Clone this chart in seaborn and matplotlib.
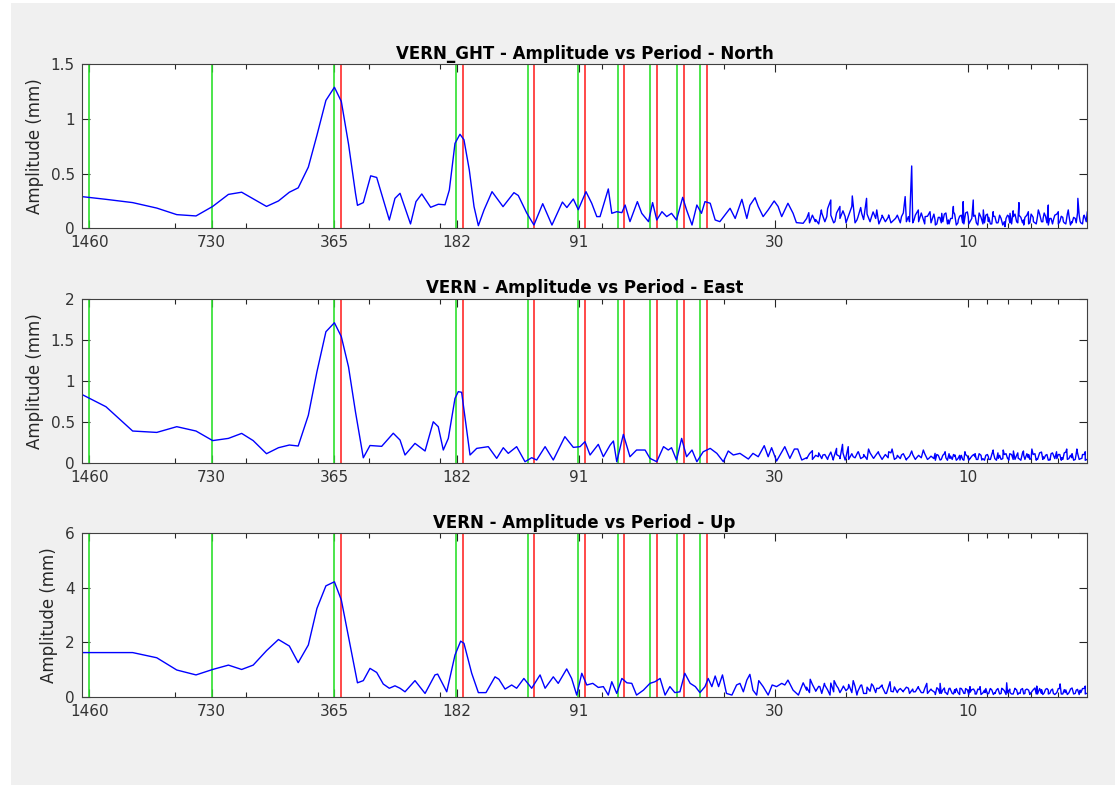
import matplotlib
matplotlib.use("Agg")
import matplotlib.pyplot as plt
import seaborn as sns
import pandas as pd
from matplotlib.ticker import FixedLocator, FixedFormatter, NullFormatter
from matplotlib.patches import Rectangle

# ---------------- data (period in days, amplitude in mm) ----------------
north_points = [
    (1526, 0.29), (1330, 0.265), (1143, 0.235), (997, 0.185), (890, 0.125), (798, 0.113),
    (726, 0.20), (664, 0.31), (616, 0.33), (577, 0.27), (535, 0.20), (500, 0.25), (470, 0.33),
    (447, 0.37), (422, 0.56), (402, 0.85), (382, 1.17), (364, 1.29), (350, 1.16), (336, 0.77),
    (323, 0.32), (319.4, 0.21), (309, 0.235), (296.3, 0.48), (286.4, 0.465), (266.6, 0.076),
    (258.2, 0.274), (250.9, 0.32), (236.4, 0.04), (229.2, 0.244), (221.8, 0.314), (210.9, 0.192),
    (201.9, 0.22), (194.4, 0.215), (189.7, 0.35), (183.7, 0.777), (178.6, 0.86), (174.6, 0.81),
    (169.4, 0.534), (164.9, 0.198), (160.9, 0.024), (155.8, 0.168), (148.9, 0.335), (139.9, 0.198),
    (131.5, 0.326), (128.3, 0.30), (122.3, 0.14), (117.4, 0.03), (111.7, 0.225), (106.0, 0.03),
    (99.9, 0.24), (97.4, 0.19), (93.9, 0.268), (91.3, 0.17), (87.4, 0.335), (84.6, 0.229),
    (82.2, 0.107), (80.7, 0.107), (77.0, 0.36), (75.5, 0.137), (73.4, 0.152), (71.3, 0.143),
    (70.0, 0.213), (68.1, 0.061), (65.3, 0.244), (63.7, 0.137), (61.3, 0.061), (59.9, 0.235),
    (58.5, 0.076), (56.8, 0.152), (55.3, 0.107), (53.8, 0.137), (52.3, 0.076), (50.5, 0.283),
    (49.4, 0.168), (47.9, 0.03), (46.6, 0.213), (45.4, 0.137), (44.5, 0.244), (43.2, 0.229),
    (42.0, 0.076), (40.9, 0.061), (38.6, 0.183), (37.5, 0.09), (36.1, 0.265), (35.1, 0.09),
    (34.5, 0.21), (33.5, 0.28), (32.9, 0.2), (32.0, 0.107), (31.1, 0.168), (30.06, 0.25),
    (29.4, 0.2), (28.8, 0.107), (27.8, 0.229), (27.0, 0.137), (26.5, 0.052), (25.5, 0.046),
    (24.7, 0.143), (23.8, 0.061), (23.0, 0.168), (22.3, 0.107), (21.8, 0.259), (21.3, 0.061),
    (20.7, 0.2), (20.1, 0.107), (19.3, 0.296), (18.8, 0.076), (18.3, 0.137), (17.8, 0.274),
    (17.3, 0.107), (16.8, 0.168), (16.3, 0.107), (15.7, 0.122), (15.1, 0.091), (14.6, 0.107),
    (14.3, 0.29), (14.04, 0.107), (13.78, 0.57), (13.6, 0.076), (13.27, 0.168), (12.77, 0.107),
    (12.42, 0.152), (12.07, 0.076), (11.62, 0.137), (11.19, 0.076), (10.88, 0.2), (10.58, 0.076),
    (10.29, 0.244), (10.0, 0.107), (9.72, 0.259), (9.44, 0.076), (9.18, 0.168), (8.92, 0.061),
    (8.68, 0.152), (8.43, 0.061), (8.12, 0.015), (7.89, 0.137), (7.74, 0.107), (7.50, 0.235),
    (7.31, 0.076), (7.11, 0.152), (6.91, 0.061), (6.72, 0.168), (6.54, 0.09), (6.35, 0.213),
    (6.17, 0.076), (6.0, 0.152), (5.83, 0.061), (5.67, 0.168), (5.56, 0.061), (5.37, 0.274),
    (5.30, 0.061), (5.20, 0.107), (5.09, 0.152),
]

east_points = [
    (1526, 0.835), (1330, 0.684), (1143, 0.387), (997, 0.37), (890, 0.44), (798, 0.387),
    (726, 0.27), (664, 0.297), (616, 0.358), (577, 0.27), (535, 0.11), (500, 0.183), (470, 0.216),
    (447, 0.204), (422, 0.58), (402, 1.11), (382, 1.6), (364, 1.71), (350, 1.54), (336, 1.17),
    (323, 0.62), (309, 0.06), (297.5, 0.21), (278.4, 0.2), (260.7, 0.36), (250.9, 0.277),
    (243.9, 0.094), (230.5, 0.236), (217.7, 0.143), (207.8, 0.5), (202, 0.44), (196.3, 0.155),
    (190.8, 0.297), (183.7, 0.786), (180.3, 0.868), (176.9, 0.86), (168.7, 0.094), (162.4, 0.175),
    (152.1, 0.196), (145, 0.053), (139.7, 0.183), (135.8, 0.114), (129.5, 0.196), (123.5, 0.012),
    (118.9, 0.061), (115.6, 0.033), (110.2, 0.196), (105.2, 0.033), (98.5, 0.318), (93.9, 0.187),
    (90.4, 0.196), (87.9, 0.257), (85.4, 0.094), (81.5, 0.224), (79.2, 0.073), (76.2, 0.216),
    (74.8, 0.265), (73.4, 0.012), (70.7, 0.346), (68.1, 0.073), (65.6, 0.155), (62.5, 0.155),
    (60.8, 0.053), (58.5, 0.012), (56.3, 0.196), (54.8, 0.155), (53.8, 0.183), (52.3, 0.033),
    (50.8, 0.297), (49.4, 0.073), (47.9, 0.155), (46.6, 0.012), (44.95, 0.134), (43.2, 0.175),
    (41.6, 0.114), (40.1, 0.012), (39.0, 0.143), (37.9, 0.094), (36.5, 0.114), (34.8, 0.045),
    (33.9, 0.114), (32.9, 0.073), (31.8, 0.208), (31.1, 0.073), (30.5, 0.183), (29.65, 0.02),
    (28.3, 0.196), (27.5, 0.053), (26.8, 0.167), (26.3, 0.167), (25.7, 0.033), (25.0, 0.061),
    (24.2, 0.147), (23.4, 0.073), (22.8, 0.094), (22.1, 0.073), (21.5, 0.033), (21.1, 0.175),
    (20.7, 0.073), (20.4, 0.224), (20.1, 0.033), (19.75, 0.196), (19.2, 0.073), (18.65, 0.134),
    (18.1, 0.073), (17.6, 0.167), (17.1, 0.053), (16.65, 0.134), (16.2, 0.061), (15.7, 0.134),
    (15.4, 0.167), (15.0, 0.061), (14.6, 0.094), (14.2, 0.033), (13.78, 0.143), (13.4, 0.061),
    (12.9, 0.155), (12.5, 0.053), (12.07, 0.114), (11.73, 0.033), (11.4, 0.134), (11.09, 0.053),
    (10.78, 0.094), (10.48, 0.033), (10.19, 0.134), (9.90, 0.053), (9.62, 0.073), (9.26, 0.033),
    (8.92, 0.073), (8.68, 0.155), (8.43, 0.053), (8.2, 0.155), (7.97, 0.053), (7.74, 0.143),
    (7.53, 0.053), (7.31, 0.143), (7.11, 0.061), (6.97, 0.167), (6.78, 0.045), (6.54, 0.073),
    (6.29, 0.033), (6.06, 0.134), (5.88, 0.061), (5.72, 0.167), (5.56, 0.061), (5.40, 0.167),
    (5.25, 0.053), (5.15, 0.134), (5.09, 0.033),
]

up_points = [
    (1526, 1.62), (1330, 1.62), (1143, 1.62), (997, 1.43), (890, 0.98), (798, 0.80), (726, 1.0),
    (664, 1.16), (616, 1.0), (577, 1.16), (535, 1.69), (500, 2.1), (470, 1.86), (447, 1.25),
    (422, 1.9), (402, 3.24), (382, 4.07), (364, 4.22), (350, 3.55), (336, 2.2), (319.4, 0.51),
    (309, 0.59), (297.5, 1.04), (286.4, 0.89), (275.9, 0.465), (266.6, 0.31), (258.2, 0.40),
    (250.9, 0.31), (243.9, 0.18), (230.5, 0.59), (217.7, 0.12), (205.8, 0.80), (202.7, 0.83),
    (192.5, 0.18), (183.7, 1.53), (177.9, 2.04), (174.6, 1.96), (167.1, 0.86), (160.9, 0.15),
    (154.1, 0.15), (146.4, 0.73), (143.2, 0.64), (138.3, 0.28), (133.2, 0.43), (129.5, 0.31),
    (124.3, 0.67), (118.9, 0.31), (113.4, 0.80), (110.2, 0.31), (105.2, 0.73), (102.3, 0.49),
    (97.5, 1.02), (94.8, 0.67), (92.1, 0.06), (89.5, 0.86), (87.0, 0.43), (84.1, 0.49),
    (81.5, 0.34), (79.2, 0.37), (77.0, 0.06), (75.5, 0.55), (73.4, 0.12), (71.3, 0.67),
    (69.3, 0.51), (67.4, 0.49), (65.6, 0.06), (63.1, 0.24), (60.8, 0.49), (59.1, 0.55),
    (57.4, 0.67), (55.8, 0.06), (54.3, 0.37), (52.8, 0.15), (51.3, 0.18), (49.9, 0.86),
    (48.4, 0.49), (47.0, 0.37), (45.8, 0.15), (44.5, 0.37), (43.7, 0.67), (42.8, 0.37),
    (42.0, 0.76), (41.2, 0.37), (40.3, 0.80), (39.4, 0.12), (38.2, 0.06), (37.2, 0.43),
    (36.5, 0.49), (35.8, 0.18), (35.1, 0.61), (34.5, 0.82), (33.9, 0.24), (33.2, 0.06),
    (32.8, 0.59), (32.0, 0.37), (31.1, 0.06), (30.4, 0.43), (29.65, 0.37), (28.8, 0.49),
    (28.3, 0.43), (27.8, 0.61), (27.0, 0.24), (26.2, 0.06), (25.5, 0.51), (25.0, 0.24),
    (24.5, 0.64), (23.8, 0.24), (23.2, 0.37), (22.6, 0.49), (21.9, 0.06), (21.4, 0.59),
    (20.9, 0.31), (20.3, 0.39), (19.75, 0.31), (19.2, 0.59), (18.8, 0.06), (18.3, 0.43),
    (17.8, 0.12), (17.3, 0.47), (16.8, 0.31), (16.3, 0.43), (15.9, 0.12), (15.58, 0.55),
    (15.3, 0.18), (14.86, 0.24), (14.45, 0.18), (14.04, 0.31), (13.65, 0.18), (13.27, 0.37),
    (12.9, 0.15), (12.65, 0.49), (12.3, 0.24), (12.07, 0.15), (11.73, 0.49), (11.4, 0.15),
    (11.09, 0.31), (10.78, 0.15), (10.48, 0.31), (10.19, 0.12), (9.90, 0.37), (9.62, 0.18),
    (9.35, 0.37), (9.09, 0.15), (8.84, 0.27), (8.59, 0.12), (8.27, 0.31), (8.04, 0.51),
    (7.89, 0.15), (7.67, 0.31), (7.45, 0.12), (7.24, 0.24), (7.04, 0.12), (6.78, 0.39),
    (6.60, 0.12), (6.35, 0.24), (6.17, 0.12), (5.94, 0.47), (5.77, 0.15), (5.61, 0.24),
    (5.45, 0.12), (5.30, 0.24), (5.15, 0.39), (5.09, 0.12),
]

# extra readings of the dense short-period noise band (shared periods, one value list per component)
fine_periods = [
    25.0, 24.6, 24.2, 23.75, 23.35, 22.95, 22.55, 22.2, 21.8, 21.45,
    21.1, 20.7, 20.35, 20.0, 19.7, 19.35, 19.0, 18.7, 18.4, 18.1,
    17.75, 17.45, 17.15, 16.9, 16.6, 16.3, 16.0, 15.75, 15.5, 15.2,
    14.95, 14.7, 14.45, 14.2, 13.95, 13.7, 13.5, 13.25, 13.05, 12.8,
    12.6, 12.35, 12.15, 11.95, 11.75, 11.55, 11.35, 11.15, 10.95, 10.8,
    10.6, 10.4, 10.25, 10.05, 9.9, 9.7, 9.55, 9.4, 9.2, 9.05,
    8.9, 8.75, 8.6, 8.45, 8.3, 8.15, 8.0, 7.9, 7.75, 7.6,
    7.5, 7.35, 7.25, 7.1, 7.0, 6.85, 6.75, 6.6, 6.5, 6.4,
    6.3, 6.2, 6.05, 5.95, 5.85, 5.75, 5.65, 5.55, 5.45, 5.38,
    5.28, 5.18, 5.12,
]
north_fine = [
    0.09, 0.05, 0.12, 0.08, 0.04, 0.14, 0.06, 0.18, 0.12, 0.05,
    0.14, 0.09, 0.16, 0.05, 0.12, 0.20, 0.05, 0.10, 0.19, 0.08,
    0.13, 0.06, 0.15, 0.09, 0.04, 0.12, 0.06, 0.10, 0.05, 0.08,
    0.12, 0.05, 0.14, 0.06, 0.06, 0.05, 0.12, 0.06, 0.14, 0.04,
    0.11, 0.05, 0.13, 0.04, 0.10, 0.06, 0.14, 0.04, 0.09, 0.13,
    0.05, 0.12, 0.04, 0.15, 0.06, 0.11, 0.05, 0.14, 0.04, 0.12,
    0.10, 0.04, 0.11, 0.05, 0.09, 0.06, 0.12, 0.05, 0.16, 0.06,
    0.12, 0.05, 0.10, 0.04, 0.13, 0.05, 0.11, 0.06, 0.14, 0.05,
    0.09, 0.04, 0.13, 0.06, 0.10, 0.04, 0.12, 0.05, 0.09, 0.14,
    0.05, 0.12, 0.06,
]
east_fine = [
    0.05, 0.11, 0.04, 0.09, 0.12, 0.05, 0.10, 0.04, 0.13, 0.06,
    0.10, 0.05, 0.12, 0.07, 0.04, 0.11, 0.06, 0.13, 0.05, 0.10,
    0.04, 0.12, 0.06, 0.09, 0.11, 0.04, 0.10, 0.06, 0.12, 0.04,
    0.09, 0.05, 0.11, 0.04, 0.08, 0.10, 0.04, 0.09, 0.06, 0.11,
    0.04, 0.08, 0.05, 0.10, 0.04, 0.09, 0.06, 0.11, 0.04, 0.08,
    0.05, 0.09, 0.03, 0.08, 0.05, 0.10, 0.04, 0.11, 0.05, 0.09,
    0.04, 0.10, 0.05, 0.12, 0.04, 0.10, 0.05, 0.11, 0.04, 0.09,
    0.05, 0.12, 0.04, 0.10, 0.05, 0.11, 0.04, 0.13, 0.05, 0.10,
    0.04, 0.12, 0.05, 0.10, 0.04, 0.13, 0.05, 0.11, 0.04, 0.12,
    0.05, 0.10, 0.04,
]
up_fine = [
    0.35, 0.15, 0.45, 0.20, 0.38, 0.12, 0.42, 0.25, 0.50, 0.18,
    0.40, 0.15, 0.35, 0.22, 0.45, 0.15, 0.38, 0.20, 0.42, 0.12,
    0.35, 0.20, 0.40, 0.15, 0.30, 0.38, 0.12, 0.32, 0.20, 0.36,
    0.15, 0.30, 0.20, 0.35, 0.12, 0.28, 0.18, 0.32, 0.15, 0.30,
    0.12, 0.28, 0.18, 0.33, 0.12, 0.25, 0.15, 0.30, 0.12, 0.26,
    0.15, 0.30, 0.12, 0.25, 0.16, 0.28, 0.10, 0.26, 0.14, 0.30,
    0.12, 0.25, 0.15, 0.30, 0.12, 0.22, 0.14, 0.28, 0.10, 0.25,
    0.14, 0.30, 0.12, 0.24, 0.15, 0.32, 0.10, 0.26, 0.14, 0.30,
    0.12, 0.28, 0.15, 0.30, 0.10, 0.25, 0.14, 0.32, 0.12, 0.27,
    0.15, 0.30, 0.12,
]

# second set of readings in the densest part of the band (periods below 12 days)
fine2_periods = [
    12.05, 11.85, 11.65, 11.45, 11.25, 11.05, 10.87, 10.7, 10.5, 10.32,
    10.15, 9.97, 9.8, 9.62, 9.47, 9.3, 9.12, 8.97, 8.82, 8.67,
    8.52, 8.37, 8.22, 8.07, 7.95, 7.82, 7.67, 7.55, 7.42, 7.3,
    7.17, 7.05, 6.92, 6.8, 6.67, 6.55, 6.45, 6.35, 6.25, 6.12,
    6.0, 5.9, 5.8, 5.7, 5.6, 5.5, 5.42, 5.33, 5.23, 5.15,
]
north_fine2 = [
    0.03, 0.10, 0.05, 0.13, 0.04, 0.09, 0.15, 0.03, 0.11, 0.05,
    0.14, 0.04, 0.09, 0.12, 0.03, 0.10, 0.05, 0.13, 0.04, 0.11,
    0.05, 0.12, 0.03, 0.09, 0.11, 0.04, 0.13, 0.05, 0.10, 0.03,
    0.12, 0.05, 0.10, 0.04, 0.13, 0.06, 0.11, 0.03, 0.09, 0.12,
    0.04, 0.11, 0.05, 0.13, 0.03, 0.10, 0.05, 0.12, 0.04, 0.09,
]
east_fine2 = [
    0.03, 0.09, 0.04, 0.11, 0.03, 0.08, 0.10, 0.03, 0.09, 0.04,
    0.10, 0.03, 0.08, 0.11, 0.04, 0.09, 0.03, 0.10, 0.04, 0.12,
    0.03, 0.09, 0.05, 0.11, 0.03, 0.10, 0.04, 0.12, 0.03, 0.09,
    0.11, 0.04, 0.10, 0.03, 0.12, 0.04, 0.09, 0.03, 0.11, 0.05,
    0.10, 0.03, 0.12, 0.04, 0.09, 0.03, 0.11, 0.04, 0.10, 0.03,
]
up_fine2 = [
    0.08, 0.28, 0.12, 0.32, 0.08, 0.25, 0.10, 0.30, 0.08, 0.22,
    0.30, 0.08, 0.26, 0.10, 0.28, 0.08, 0.24, 0.10, 0.30, 0.08,
    0.25, 0.10, 0.28, 0.08, 0.22, 0.10, 0.30, 0.08, 0.26, 0.10,
    0.28, 0.08, 0.25, 0.10, 0.30, 0.08, 0.27, 0.10, 0.24, 0.08,
    0.30, 0.10, 0.26, 0.08, 0.28, 0.10, 0.24, 0.08, 0.30, 0.10,
]

# reference periods: annual harmonics (green) and GPS draconitic harmonics (red)
annual_periods = [1461.0, 730.5, 365.25, 182.625, 121.75, 91.3125, 73.05, 60.875, 52.18, 45.66]
draconitic_periods = [351.4, 175.7, 117.13, 87.85, 70.28, 58.57, 50.2, 43.93]

tick_periods = [1460, 730, 365, 182, 91, 30, 10]
tick_labels = ["1460", "730", "365", "182", "91", "30", "10"]
minor_periods = [900, 600, 400, 300, 200, 80, 40, 20, 9, 8, 7, 6]

titles = ["VERN_GHT - Amplitude vs Period - North",
          "VERN - Amplitude vs Period - East",
          "VERN - Amplitude vs Period - Up"]
y_limits = [(0, 1.5), (0, 2), (0, 6)]
y_ticks = [[0, 0.5, 1, 1.5], [0, 0.5, 1, 1.5, 2], [0, 2, 4, 6]]
y_tick_labels = [["0", "0.5", "1", "1.5"], ["0", "0.5", "1", "1.5", "2"], ["0", "2", "4", "6"]]
x_limits = (1526, 5.09)

# ---------------- drawing ----------------
sns.set_style("ticks")
plt.rcParams["font.family"] = ["DejaVu Sans"]

W, H = 1115, 785
fig = plt.figure(figsize=(W / 100, H / 100), dpi=100, facecolor="white")
fig.patches.append(Rectangle((11 / W, 0), 1 - 11 / W, 1 - 3 / H, transform=fig.transFigure,
                             facecolor="#f0f0f0", edgecolor="none", zorder=-10))

left, width = 81.7 / W, (1087.3 - 81.7) / W
rects = [(64.3, 228.3), (299.0, 462.7), (533.3, 696.7)]
series = [(north_points, north_fine, north_fine2),
          (east_points, east_fine, east_fine2),
          (up_points, up_fine, up_fine2)]
text_color = "#262626"

for i, (top_px, bot_px) in enumerate(rects):
    ax = fig.add_axes([left, 1 - bot_px / H, width, (bot_px - top_px) / H])
    ax.set_zorder(2)
    ax.set_facecolor("white")
    main_pts, fine_vals, fine2_vals = series[i]
    rows = main_pts + list(zip(fine_periods, fine_vals)) + list(zip(fine2_periods, fine2_vals))
    df = pd.DataFrame(rows, columns=["period", "amplitude"])
    df = df.sort_values("period", ascending=False, kind="stable")

    for p in annual_periods:
        ax.axvline(p, color="#2ee02e", lw=1.2, zorder=1)
    for p in draconitic_periods:
        ax.axvline(p, color="#ff2a2a", lw=1.2, zorder=1)

    sns.lineplot(data=df, x="period", y="amplitude", ax=ax, color="#0000ff", linewidth=1.0,
                 estimator=None, sort=False, zorder=3)

    ax.set_xscale("log")
    ax.set_xlim(*x_limits)
    ax.set_ylim(*y_limits[i])
    ax.xaxis.set_major_locator(FixedLocator(tick_periods))
    ax.xaxis.set_major_formatter(FixedFormatter(tick_labels))
    ax.xaxis.set_minor_locator(FixedLocator(minor_periods))
    ax.xaxis.set_minor_formatter(NullFormatter())
    ax.yaxis.set_major_locator(FixedLocator(y_ticks[i]))
    ax.yaxis.set_major_formatter(FixedFormatter(y_tick_labels[i]))

    ax.tick_params(which="major", direction="in", top=True, right=True, length=5.5, width=0.8,
                   color=text_color, labelcolor="#333333", labelsize=11, pad=5)
    ax.tick_params(which="minor", direction="in", top=True, bottom=True, length=3.5, width=0.8,
                   color=text_color)
    for s in ax.spines.values():
        s.set_color("#404040")
        s.set_linewidth(0.8)
        s.set_zorder(5)

    ax.set_xlabel("")
    ax.set_ylabel("Amplitude (mm)", fontsize=12, color=text_color, labelpad=5)
    ax.set_title(titles[i], fontsize=12, fontweight="bold", color="black", pad=4)

fig.savefig("out.png", dpi=100, facecolor=fig.get_facecolor())
